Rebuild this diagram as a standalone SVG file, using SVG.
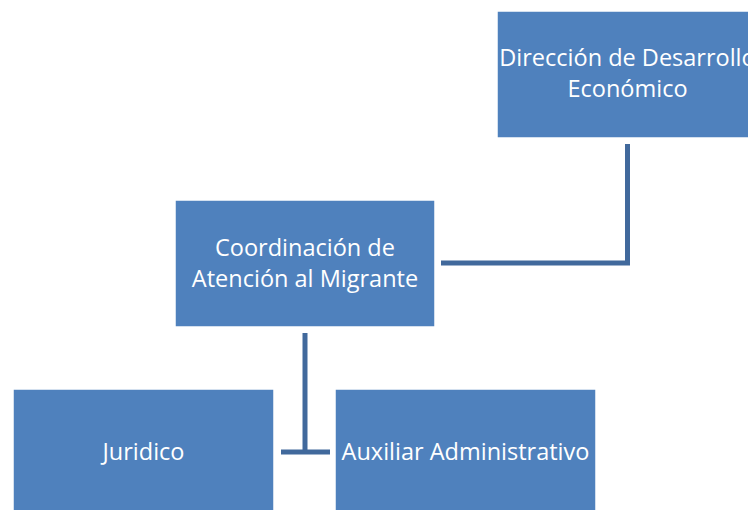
<svg xmlns="http://www.w3.org/2000/svg" width="748" height="510" viewBox="0 0 748 510">
<style>
.box{fill:#4F81BD;stroke:#FFFFFF;stroke-width:1.5}
.t{font-family:"Open Sans","Liberation Sans",Arial,sans-serif;font-size:23.5px;fill:#FFFFFF;text-anchor:middle}
.c{fill:none;stroke:#41699C;stroke-width:5}
</style>
<rect width="748" height="510" fill="#FFFFFF"/>
<g id="connectors">
<polyline class="c" points="627.5,144 627.5,263 441,263"/>
<line class="c" x1="305" y1="333" x2="305" y2="452"/>
<line class="c" x1="281" y1="452" x2="330" y2="452"/>
</g>
<g id="direccion">
<rect class="box" x="497" y="11" width="261" height="127"/>
<text class="t" x="627.5" y="66">Dirección de Desarrollo</text>
<text class="t" x="627.5" y="97">Económico</text>
</g>
<g id="coordinacion">
<rect class="box" x="175" y="200" width="260" height="127"/>
<text class="t" x="305" y="256">Coordinación de</text>
<text class="t" x="305" y="287">Atención al Migrante</text>
</g>
<g id="juridico">
<rect class="box" x="13" y="389" width="261" height="127"/>
<text class="t" x="143.5" y="460">Juridico</text>
</g>
<g id="auxiliar">
<rect class="box" x="335" y="389" width="261" height="127"/>
<text class="t" x="465.5" y="460">Auxiliar Administrativo</text>
</g>
</svg>
